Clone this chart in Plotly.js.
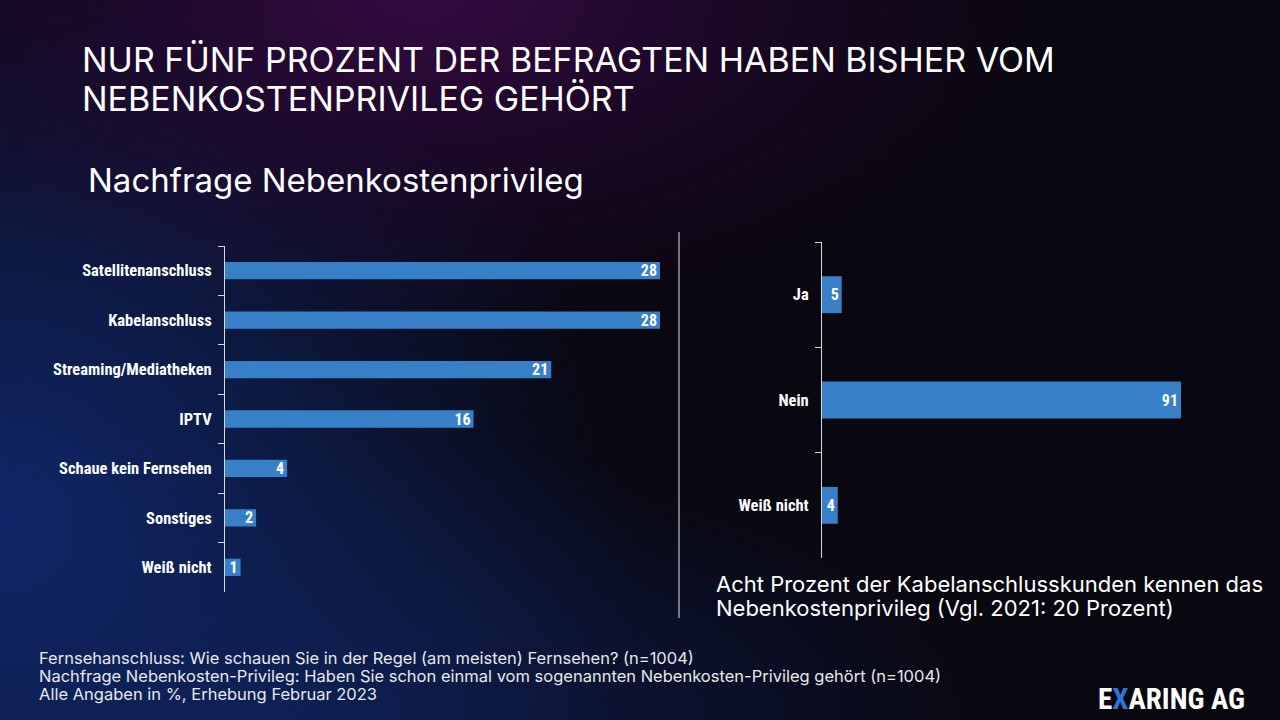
<!DOCTYPE html>
<html>
<head>
<meta charset="utf-8">
<script src="https://cdn.plot.ly/plotly-3.0.1.min.js"></script>
<style>
  html, body { margin: 0; padding: 0; width: 1280px; height: 720px; overflow: hidden; }
  body {
    background:
      radial-gradient(ellipse 50% 45% at 33% 0%, rgba(52,10,66,1) 0%, rgba(40,8,55,0.6) 45%, rgba(0,0,0,0) 100%),
      radial-gradient(ellipse 50% 80% at 0% 72%, rgba(16,38,104,1) 0%, rgba(14,34,90,0.75) 40%, rgba(0,0,0,0) 100%),
      radial-gradient(ellipse 60% 40% at 20% 100%, rgba(14,30,80,1) 0%, rgba(0,0,0,0) 100%),
      #09070f;
  }
  #chart { width: 1280px; height: 720px; }
</style>
</head>
<body>
<div id="chart"></div>
<script>
// Left chart: Fernsehanschluss
const tvCategories = ["Satellitenanschluss", "Kabelanschluss", "Streaming/Mediatheken", "IPTV", "Schaue kein Fernsehen", "Sonstiges", "Weiß nicht"];
const tvValues = [28, 28, 21, 16, 4, 2, 1];

// Right chart: Nachfrage Nebenkostenprivileg
const nkCategories = ["Ja", "Nein", "Weiß nicht"];
const nkValues = [5, 91, 4];

const barColor = "#3780c8";
const labelFont = "Liberation Sans Narrow, Arial Narrow, Roboto Condensed, DejaVu Sans Condensed, sans-serif";
const textFont = "Inter, Lato, Noto Sans, sans-serif";

const traces = [
  {
    type: "bar", orientation: "h",
    x: tvValues, y: tvCategories,
    xaxis: "x", yaxis: "y",
    marker: { color: barColor },
    text: tvValues.map(String),
    textposition: "inside", insidetextanchor: "end", constraintext: "none", textangle: 0,
    textfont: { family: labelFont, size: 16, color: "#ffffff", weight: 700 },
    hoverinfo: "skip", cliponaxis: false
  },
  {
    type: "bar", orientation: "h",
    x: nkValues, y: nkCategories,
    xaxis: "x2", yaxis: "y2",
    marker: { color: barColor },
    text: nkValues.map(String),
    textposition: "inside", insidetextanchor: "end", constraintext: "none", textangle: 0,
    textfont: { family: labelFont, size: 16, color: "#ffffff", weight: 700 },
    hoverinfo: "skip", cliponaxis: false
  }
];

const yAxisCommon = {
  type: "category", autorange: "reversed",
  showline: true, linecolor: "#d9d9d9", linewidth: 1,
  ticks: "outside", tickson: "boundaries", ticklen: 6, tickcolor: "#d9d9d9", tickwidth: 1,
  showgrid: false, zeroline: false, fixedrange: true,
  tickfont: { family: labelFont, size: 16.5, color: "#ffffff", weight: 700 },
  ticklabelstandoff: 9
};

const layout = {
  width: 1280, height: 720,
  margin: { l: 0, r: 0, t: 0, b: 0 },
  paper_bgcolor: "rgba(0,0,0,0)", plot_bgcolor: "rgba(0,0,0,0)",
  showlegend: false,
  bargap: 0.65,
  xaxis: { domain: [225/1280, 660/1280], range: [0, 28], visible: false, fixedrange: true },
  yaxis: Object.assign({}, yAxisCommon, { domain: [128/720, 474/720], anchor: "x" }),
  xaxis2: { domain: [822/1280, 1181/1280], range: [0, 91], visible: false, fixedrange: true },
  yaxis2: Object.assign({}, yAxisCommon, { domain: [162/720, 478/720], anchor: "x2" }),
  shapes: [
    { type: "line", xref: "paper", yref: "paper", x0: 679/1280, x1: 679/1280, y0: 102/720, y1: 488/720,
      line: { color: "#e0e0e0", width: 1 } }
  ],
  annotations: [
    { text: "NUR FÜNF PROZENT DER BEFRAGTEN HABEN BISHER VOM", xref: "paper", yref: "paper",
      x: 80/1280, y: 1 - 59/720, xanchor: "left", yanchor: "middle", showarrow: false,
      font: { family: textFont, size: 34, color: "#ffffff" } },
    { text: "NEBENKOSTENPRIVILEG GEHÖRT", xref: "paper", yref: "paper",
      x: 80/1280, y: 1 - 99/720, xanchor: "left", yanchor: "middle", showarrow: false,
      font: { family: textFont, size: 34, color: "#ffffff" } },
    { text: "Nachfrage Nebenkostenprivileg", xref: "paper", yref: "paper",
      x: 86/1280, y: 1 - 180/720, xanchor: "left", yanchor: "middle", showarrow: false,
      font: { family: textFont, size: 33, color: "#ffffff" } },
    { text: "Acht Prozent der Kabelanschlusskunden kennen das", xref: "paper", yref: "paper",
      x: 714/1280, y: 1 - 584/720, xanchor: "left", yanchor: "middle", showarrow: false,
      font: { family: textFont, size: 22, color: "#ffffff" } },
    { text: "Nebenkostenprivileg (Vgl. 2021: 20 Prozent)", xref: "paper", yref: "paper",
      x: 714/1280, y: 1 - 608/720, xanchor: "left", yanchor: "middle", showarrow: false,
      font: { family: textFont, size: 22, color: "#ffffff" } },
    { text: "Fernsehanschluss: Wie schauen Sie in der Regel (am meisten) Fernsehen? (n=1004)", xref: "paper", yref: "paper",
      x: 37/1280, y: 1 - 658/720, xanchor: "left", yanchor: "middle", showarrow: false,
      font: { family: textFont, size: 16.5, color: "#e8e8e8" } },
    { text: "Nachfrage Nebenkosten-Privileg: Haben Sie schon einmal vom sogenannten Nebenkosten-Privileg gehört (n=1004)", xref: "paper", yref: "paper",
      x: 37/1280, y: 1 - 676/720, xanchor: "left", yanchor: "middle", showarrow: false,
      font: { family: textFont, size: 16.5, color: "#e8e8e8" } },
    { text: "Alle Angaben in %, Erhebung Februar 2023", xref: "paper", yref: "paper",
      x: 37/1280, y: 1 - 694/720, xanchor: "left", yanchor: "middle", showarrow: false,
      font: { family: textFont, size: 16.5, color: "#e8e8e8" } },
    { text: "E<span style=\"color:#2f74d8\">X</span>ARING AG", xref: "paper", yref: "paper",
      x: 1247/1280, y: 1 - 699/720, xanchor: "right", yanchor: "middle", showarrow: false,
      font: { family: labelFont, size: 29, color: "#ffffff", weight: 700 } }
  ]
};

Plotly.newPlot("chart", traces, layout, { displayModeBar: false, staticPlot: true });
</script>
</body>
</html>
